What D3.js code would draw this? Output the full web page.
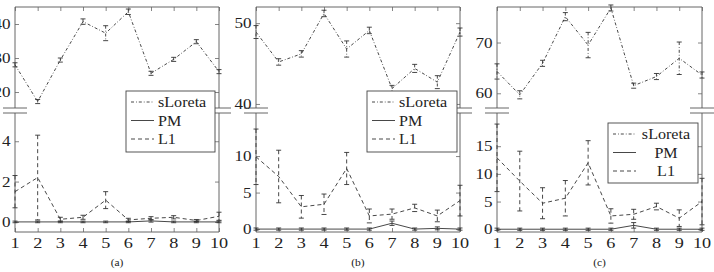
<!DOCTYPE html>
<html>
<head>
<meta charset="utf-8">
<script src="https://cdn.jsdelivr.net/npm/d3@7"></script>
<style>
  html, body { margin: 0; padding: 0; background: #fff; }
  svg { display: block; }
  text { font-family: "Liberation Serif", "DejaVu Serif", serif; fill: #222; }
</style>
</head>
<body>
<svg id="chart" width="714" height="272"></svg>
<script>
// x positions (trial index)
const trials = [1, 2, 3, 4, 5, 6, 7, 8, 9, 10];

// (a)
const aSloreta    = [28.0, 17.2, 29.4, 40.7, 37.3, 43.6, 25.5, 29.6, 34.8, 26.0];
const aSloretaErr = [0.6, 0.6, 0.6, 0.8, 2.2, 0.8, 0.6, 0.6, 0.6, 0.6];
const aPM         = [0.0, 0.0, 0.0, 0.0, 0.0, 0.0, 0.05, 0.0, 0.0, 0.0];
const aPMErr      = [0.04, 0.04, 0.04, 0.04, 0.04, 0.04, 0.06, 0.04, 0.04, 0.04];
const aL1         = [1.5, 2.2, 0.13, 0.23, 1.08, 0.1, 0.18, 0.23, 0.07, 0.28];
const aL1Err      = [0.8, 2.1, 0.1, 0.1, 0.42, 0.08, 0.08, 0.08, 0.05, 0.2];

// (b)
const bSloreta    = [48.9, 45.2, 46.2, 51.2, 46.8, 49.1, 41.9, 44.4, 42.7, 48.9];
const bSloretaErr = [0.8, 0.4, 0.4, 0.4, 1.0, 0.4, 0.4, 0.5, 0.8, 0.5];
const bPM         = [0.0, 0.0, 0.0, 0.0, 0.0, 0.0, 0.8, 0.0, 0.1, 0.0];
const bPMErr      = [0.15, 0.15, 0.15, 0.15, 0.15, 0.15, 0.3, 0.15, 0.2, 0.15];
const bL1         = [9.9, 7.2, 3.05, 3.4, 8.3, 1.8, 2.05, 2.9, 1.8, 3.9];
const bL1Err      = [3.8, 3.6, 1.55, 1.4, 2.2, 0.95, 0.7, 0.5, 0.8, 2.1];

// (c)
const cSloreta    = [64.3, 59.7, 65.9, 75.1, 69.5, 76.8, 61.5, 63.3, 66.9, 63.6];
const cSloretaErr = [1.5, 0.8, 0.6, 0.8, 2.5, 0.6, 0.5, 0.6, 3.2, 0.6];
const cPM         = [0.0, 0.0, 0.0, 0.0, 0.0, 0.0, 0.7, 0.0, 0.0, 0.0];
const cPMErr      = [0.2, 0.2, 0.2, 0.2, 0.2, 0.2, 0.5, 0.2, 0.2, 0.2];
const cL1         = [12.9, 8.7, 4.7, 5.6, 12.0, 2.4, 2.7, 4.1, 2.0, 5.0];
const cL1Err      = [6.1, 5.4, 2.8, 3.2, 4.0, 1.3, 0.9, 0.6, 1.5, 4.2];

// axis tick labels
const aUpperTicks = [20, 30, 40], aLowerTicks = [0, 2, 4];
const bUpperTicks = [40, 50],     bLowerTicks = [0, 5, 10];
const cUpperTicks = [60, 70],     cLowerTicks = [0, 5, 10, 15];
const seriesNames = ["sLoreta", "PM", "L1"];
const captions = ["(a)", "(b)", "(c)"];

const svg = d3.select("#chart");
const ink = "#333";

const styles = {
  sLoreta: "3,2,0.8,2",
  PM: null,
  L1: "4,3"
};

// the figure is stretched horizontally, so text gets a horizontal scale
function stretchedText(g, x, y, str, size, anchor, sx) {
  g.append("text")
    .attr("transform", `translate(${x},${y}) scale(${sx},1)`)
    .attr("text-anchor", anchor)
    .attr("font-size", size)
    .text(str);
}

function drawPanel(p) {
  const g = svg.append("g");
  const x = d3.scaleLinear([1, 10], [p.x0, p.x1]);
  const yU = d3.scaleLinear(p.upperDomain, [108, 7]);
  const yL = d3.scaleLinear(p.lowerDomain, [232, 113]);

  // frame lines
  const frame = [
    [p.x0, 7, p.x1, 7], [p.x0, 7, p.x0, 108], [p.x1, 7, p.x1, 108],
    [p.x0, 113, p.x0, 232], [p.x1, 113, p.x1, 232], [p.x0, 232, p.x1, 232]
  ];
  // break marks
  [p.x0, p.x1].forEach(xx => {
    frame.push([xx - 12, 108, xx + 12, 108]);
    frame.push([xx - 12, 113, xx + 12, 113]);
  });
  g.selectAll(".frame").data(frame).join("line")
    .attr("x1", d => d[0]).attr("y1", d => d[1])
    .attr("x2", d => d[2]).attr("y2", d => d[3])
    .attr("stroke", "#555").attr("stroke-width", 0.9);

  // inward ticks
  function ticks(axis, transform) {
    const a = g.append("g").attr("transform", transform).call(axis);
    a.select(".domain").remove();
    a.selectAll(".tick line").attr("stroke", "#666").attr("stroke-width", 0.8);
    a.selectAll(".tick text").remove();
  }
  ticks(d3.axisLeft(yU).tickValues(p.upperTicks).tickSize(-4), `translate(${p.x0},0)`);
  ticks(d3.axisRight(yU).tickValues(p.upperTicks).tickSize(-4), `translate(${p.x1},0)`);
  ticks(d3.axisLeft(yL).tickValues(p.lowerTicks).tickSize(-4), `translate(${p.x0},0)`);
  ticks(d3.axisRight(yL).tickValues(p.lowerTicks).tickSize(-4), `translate(${p.x1},0)`);
  ticks(d3.axisTop(x).tickValues(trials).tickSize(-4), `translate(0,7)`);
  ticks(d3.axisBottom(x).tickValues(trials).tickSize(-4), `translate(0,232)`);

  // tick labels
  p.upperTicks.forEach(v => stretchedText(g, p.x0 - 4.5, yU(v) + 5, v, 14, "end", 1.22));
  p.lowerTicks.forEach(v => stretchedText(g, p.x0 - 4.5, yL(v) + 5, v, 14, "end", 1.22));
  trials.forEach(v => stretchedText(g, x(v), 248, v, 14, "middle", 1.3));
  stretchedText(g, (p.x0 + p.x1) / 2, 266, p.caption, 10, "middle", 1.15);

  // series
  const series = [
    { name: "sLoreta", y: yU, vals: p.sl, err: p.slErr },
    { name: "PM", y: yL, vals: p.pm, err: p.pmErr },
    { name: "L1", y: yL, vals: p.l1, err: p.l1Err }
  ];
  series.forEach(s => {
    const pts = trials.map((t, i) => ({ t, v: s.vals[i], e: s.err[i] }));
    const line = d3.line().x(d => x(d.t)).y(d => s.y(d.v));
    g.append("path").datum(pts)
      .attr("d", line).attr("fill", "none")
      .attr("stroke", ink).attr("stroke-width", 0.9)
      .attr("stroke-dasharray", styles[s.name]);
    const eb = g.append("g").attr("stroke", ink).attr("stroke-width", 0.9);
    pts.forEach(d => {
      const yt = s.y(d.v + d.e), yb = s.y(d.v - d.e), xx = x(d.t);
      eb.append("line").attr("x1", xx).attr("x2", xx).attr("y1", yt).attr("y2", yb)
        .attr("stroke-dasharray", styles[s.name]);
      eb.append("line").attr("x1", xx - 2.5).attr("x2", xx + 2.5).attr("y1", yt).attr("y2", yt);
      eb.append("line").attr("x1", xx - 2.5).attr("x2", xx + 2.5).attr("y1", yb).attr("y2", yb);
    });
  });

  // legend
  const L = p.legend;
  const lg = g.append("g");
  lg.append("rect").attr("x", L.x).attr("y", L.y).attr("width", L.w).attr("height", L.h)
    .attr("fill", "#fff").attr("stroke", "#444").attr("stroke-width", 0.9);
  seriesNames.forEach((n, i) => {
    const yy = L.y + 11 + i * 18.5;
    lg.append("line").attr("x1", L.x + 5).attr("x2", L.x + 28).attr("y1", yy).attr("y2", yy)
      .attr("stroke", ink).attr("stroke-width", 0.9).attr("stroke-dasharray", styles[n]);
    if (L.center) stretchedText(lg, L.x + 58, yy + 5, n, 14, "middle", 1.15);
    else stretchedText(lg, L.x + 32, yy + 5, n, 14, "start", 1.15);
  });
}

const panels = [
  { x0: 15, x1: 219, upperDomain: [15.3, 45], lowerDomain: [-0.5, 5.4],
    upperTicks: aUpperTicks, lowerTicks: aLowerTicks,
    sl: aSloreta, slErr: aSloretaErr, pm: aPM, pmErr: aPMErr, l1: aL1, l1Err: aL1Err,
    legend: { x: 126, y: 91, w: 89, h: 61, center: false }, caption: captions[0] },
  { x0: 256, x1: 460, upperDomain: [39.5, 52], lowerDomain: [-0.4, 15.9],
    upperTicks: bUpperTicks, lowerTicks: bLowerTicks,
    sl: bSloreta, slErr: bSloretaErr, pm: bPM, pmErr: bPMErr, l1: bL1, l1Err: bL1Err,
    legend: { x: 367, y: 91, w: 90, h: 61, center: false }, caption: captions[1] },
  { x0: 497, x1: 702, upperDomain: [57.1, 77], lowerDomain: [-0.5, 21],
    upperTicks: cUpperTicks, lowerTicks: cLowerTicks,
    sl: cSloreta, slErr: cSloretaErr, pm: cPM, pmErr: cPMErr, l1: cL1, l1Err: cL1Err,
    legend: { x: 608, y: 123, w: 90, h: 60, center: true }, caption: captions[2] }
];

panels.forEach(drawPanel);
</script>
</body>
</html>
